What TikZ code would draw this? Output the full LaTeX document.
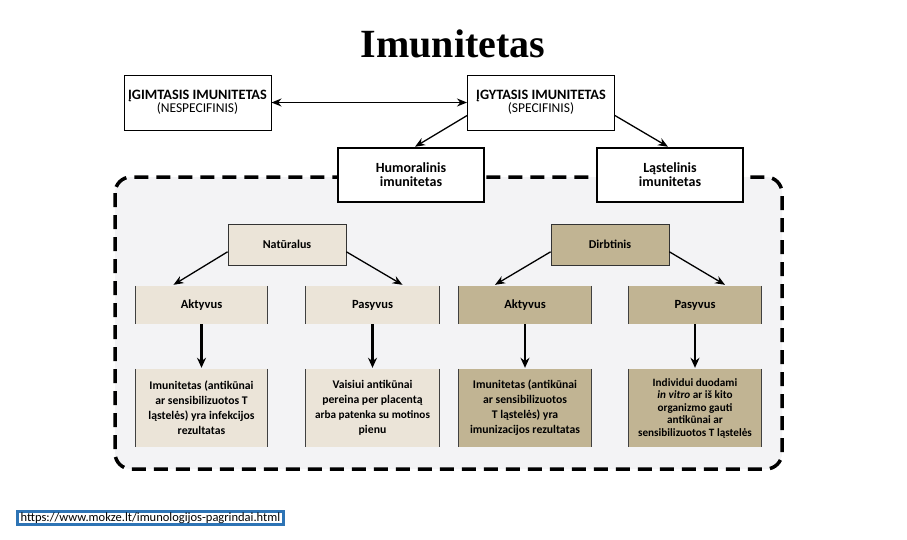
\documentclass[tikz,border=0pt]{standalone}
\usepackage{fontspec}
\setmainfont{Carlito}
\newfontfamily\titlefont{Liberation Serif}
\usetikzlibrary{arrows.meta,calc}
\definecolor{lightbeige}{HTML}{EBE4D8}
\definecolor{darktan}{HTML}{C1B493}
\definecolor{regiongrey}{HTML}{F3F3F5}
\definecolor{urlblue}{HTML}{2E74B5}
\tikzset{
  topbox/.style={draw, fill=white, line width=1pt, inner sep=0pt, minimum width=147pt, minimum height=55pt, align=center, font=\fontsize{13.5}{13}\selectfont},
  midbox/.style={draw, fill=white, line width=2.5pt, inner sep=0pt, minimum width=146pt, minimum height=54pt, align=center, font=\bfseries\fontsize{14}{14}\selectfont},
  catbox/.style={draw=black!80, line width=0.8pt, inner sep=0pt, minimum width=118pt, minimum height=41pt, align=center, font=\bfseries\fontsize{12}{12}\selectfont},
  rowbox/.style={inner sep=0pt, minimum height=38pt, align=center, font=\bfseries\fontsize{12.5}{12}\selectfont},
  txtbox/.style={inner sep=0pt, minimum height=78pt, align=center, font=\bfseries\fontsize{11.7}{15}\selectfont},
  side/.style={draw=black!75, line width=0.8pt},
  thinarrow/.style={-{Stealth[length=10pt,width=8pt]}, line width=1.3pt},
  downarrow/.style={-{Stealth[length=10pt,width=9pt]}, line width=2.2pt},
}
\begin{document}
\begin{tikzpicture}[x=1pt,y=-1pt]
\useasboundingbox (0,0) rectangle (907,539);
% title
\node[font=\titlefont\bfseries\fontsize{40}{42}\selectfont, anchor=base] (title) at (453,57) {Imunitetas};
% grey dashed region
\draw[fill=regiongrey, line width=3.5pt, dash pattern=on 14pt off 8pt, rounded corners=16pt] (115,177) rectangle (782,469);
% top boxes
\node[topbox] (igimt) at (197.5,102.5) {{\bfseries\fontsize{14.3}{14}\selectfont ĮGIMTASIS IMUNITETAS}\\(NESPECIFINIS)};
\node[topbox] (igyt) at (541,102.5) {{\bfseries\fontsize{14.3}{14}\selectfont ĮGYTASIS IMUNITETAS}\\(SPECIFINIS)};
\draw[{Stealth[length=10pt,width=8pt]}-{Stealth[length=10pt,width=8pt]}, line width=1.3pt] (igimt.east) -- (igyt.west);
% mid boxes
\node[midbox] (humor) at (411,175) {Humoralinis\\imunitetas};
\node[midbox] (lastel) at (670,175) {Ląstelinis\\imunitetas};
\draw[thinarrow] (igyt.190) -- ($(humor.north)+(4,0)$);
\draw[thinarrow] (igyt.350) -- ($(lastel.north)+(-2,0)$);
% category boxes
\node[catbox, fill=lightbeige] (natur) at (287,244.5) {Natūralus};
\node[catbox, fill=darktan] (dirbt) at (610,244.5) {Dirbtinis};
% row 2
\node[rowbox, fill=lightbeige, minimum width=131pt] (akt1) at (201.5,305) {Aktyvus};
\node[rowbox, fill=lightbeige, minimum width=133pt] (pas1) at (372.5,305) {Pasyvus};
\node[rowbox, fill=darktan, minimum width=132pt] (akt2) at (525,305) {Aktyvus};
\node[rowbox, fill=darktan, minimum width=132pt] (pas2) at (695,305) {Pasyvus};
% row 3
\node[txtbox, fill=lightbeige, minimum width=131pt] (t1) at (201.5,408) {Imunitetas (antikūnai\\ar sensibilizuotos T\\ląstelės) yra infekcijos\\rezultatas};
\node[txtbox, fill=lightbeige, minimum width=133pt] (t2) at (372.5,408) {Vaisiui antikūnai\\pereina per placentą\\{\fontsize{11.2}{15}\selectfont arba patenka su motinos}\\pienu};
\node[txtbox, fill=darktan, minimum width=132pt] (t3) at (525,408) {Imunitetas (antikūnai\\ar sensibilizuotos\\T ląstelės) yra\\imunizacijos rezultatas};
\node[txtbox, fill=darktan, minimum width=132pt, font=\bfseries\fontsize{11.2}{12.5}\selectfont] (t4) at (695,408) {Individui duodami\\\textit{in vitro} ar iš kito\\organizmo gauti\\antikūnai ar\\sensibilizuotos T ląstelės};
% side lines
\foreach \n in {akt1,pas1,akt2,pas2,t1,t2,t3,t4}{
  \draw[side] (\n.north west) -- (\n.south west);
  \draw[side] (\n.north east) -- (\n.south east);
}
% diagonal arrows
\draw[thinarrow] (natur.187) -- ($(akt1.north)+(-28,-1)$);
\draw[thinarrow] (natur.353) -- ($(pas1.north)+(30,-1)$);
\draw[thinarrow] (dirbt.187) -- ($(akt2.north)+(-30,-1)$);
\draw[thinarrow] (dirbt.353) -- ($(pas2.north)+(30,-1)$);
% vertical arrows
\foreach \a/\b in {akt1/t1,pas1/t2,akt2/t3,pas2/t4}{
  \draw[downarrow] (\a.south) -- ($(\b.north)+(0,-1)$);
}
% url
\node[draw=urlblue, line width=2.2pt, fill=white, inner xsep=3pt, inner ysep=1pt, minimum width=266pt, font=\fontsize{12.5}{12}\selectfont] (url) at (150.5,518) {https://www.mokze.lt/imunologijos-pagrindai.html};
\end{tikzpicture}
\end{document}
